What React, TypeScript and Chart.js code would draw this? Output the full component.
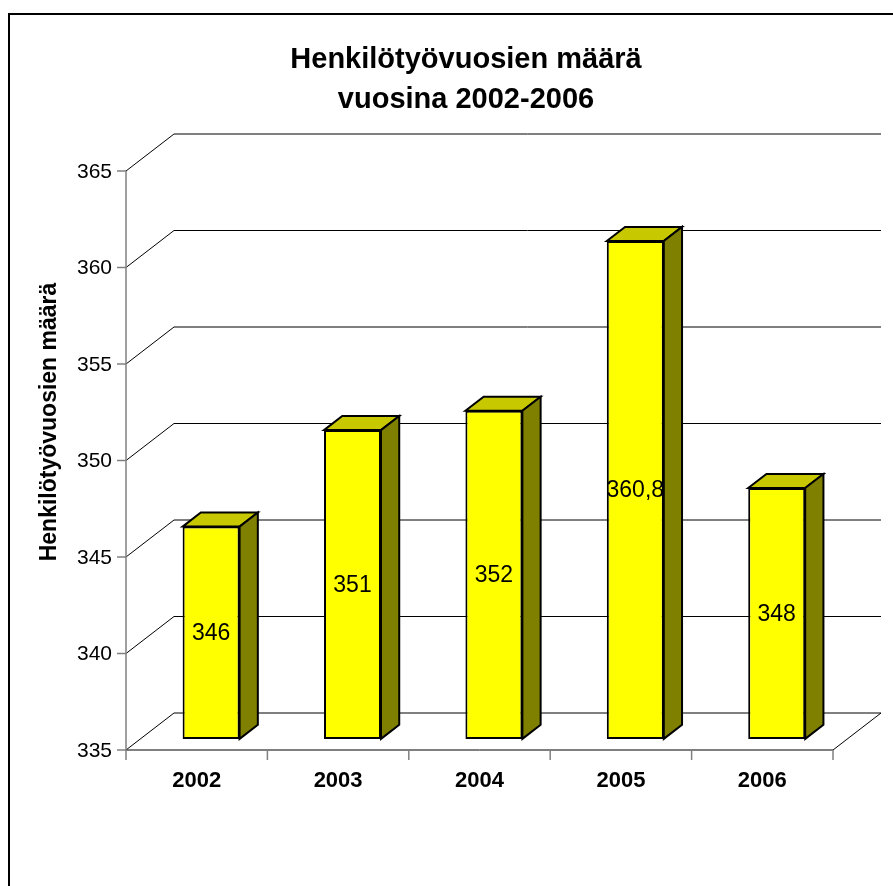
import React, { useEffect, useRef } from 'react';
import { Chart, registerables } from 'chart.js';

Chart.register(...registerables);

// ---- data ----
const categories = ['2002', '2003', '2004', '2005', '2006'];
const values = [346, 351, 352, 360.8, 348];
const valueLabels = ['346', '351', '352', '360,8', '348'];
const yTicks = [335, 340, 345, 350, 355, 360, 365];
const titleLines = ['Henkilötyövuosien määrä', 'vuosina 2002-2006'];
const yAxisTitle = 'Henkilötyövuosien määrä';

// ---- style ----
const W = 893;
const H = 886;
const FONT = '"Liberation Sans", Arial, Helvetica, sans-serif';
const DEPTH_X = 48;
const DEPTH_Y = -37;
const BAR_FRONT = 0.3;
const BAR_DEPTH = 0.38;
const FRONT_COLOR = '#FFFF00';
const TOP_COLOR = '#C8C800';
const SIDE_COLOR = '#808000';

export default function App() {
  const ref = useRef<HTMLCanvasElement>(null);

  useEffect(() => {
    const canvas = ref.current;
    if (!canvas) return;

    const line = (ctx: CanvasRenderingContext2D, pts: number[][], color: string, lw: number) => {
      ctx.beginPath();
      ctx.moveTo(pts[0][0], pts[0][1]);
      for (let i = 1; i < pts.length; i++) ctx.lineTo(pts[i][0], pts[i][1]);
      ctx.strokeStyle = color;
      ctx.lineWidth = lw;
      ctx.stroke();
    };

    const poly = (ctx: CanvasRenderingContext2D, pts: number[][], fill: string) => {
      ctx.beginPath();
      ctx.moveTo(pts[0][0], pts[0][1]);
      for (let i = 1; i < pts.length; i++) ctx.lineTo(pts[i][0], pts[i][1]);
      ctx.closePath();
      ctx.fillStyle = fill;
      ctx.fill();
      ctx.strokeStyle = '#000';
      ctx.lineWidth = 2;
      ctx.lineJoin = 'miter';
      ctx.stroke();
    };

    const plugin = {
      id: 'excel3d',
      beforeDatasetsDraw(chart: any) {
        const ctx: CanvasRenderingContext2D = chart.ctx;
        const xs = chart.scales.x;
        const ys = chart.scales.y;
        const left = xs.left;
        const right = xs.right;
        const catW = (right - left) / categories.length;

        ctx.save();
        // outer border
        line(ctx, [[9, H + 5], [9, 14], [W + 5, 14]], '#000', 2);

        // title
        ctx.fillStyle = '#000';
        ctx.textAlign = 'center';
        ctx.textBaseline = 'alphabetic';
        ctx.font = `bold 29px ${FONT}`;
        ctx.fillText(titleLines[0], 466, 68);
        ctx.fillText(titleLines[1], 466, 108);

        // y axis title
        ctx.save();
        ctx.translate(56, 422);
        ctx.rotate(-Math.PI / 2);
        ctx.font = `bold 23px ${FONT}`;
        ctx.textAlign = 'center';
        ctx.textBaseline = 'alphabetic';
        ctx.fillText(yAxisTitle, 0, 0);
        ctx.restore();

        // back wall gridlines + left wall diagonals
        yTicks.forEach((v) => {
          const y = ys.getPixelForValue(v);
          line(ctx, [[left, y], [left + DEPTH_X, y + DEPTH_Y], [right + DEPTH_X, y + DEPTH_Y]], '#000', 1);
        });
        // floor
        const yb = ys.getPixelForValue(yTicks[0]);
        line(ctx, [[left, yb], [right, yb], [right + DEPTH_X, yb + DEPTH_Y]], '#000', 1);

        // front value axis
        const yt = ys.getPixelForValue(yTicks[yTicks.length - 1]);
        line(ctx, [[left, yt], [left, yb + 10]], '#808080', 1.5);
        ctx.font = `21px ${FONT}`;
        ctx.textAlign = 'right';
        ctx.textBaseline = 'middle';
        ctx.fillStyle = '#000';
        yTicks.forEach((v) => {
          const y = ys.getPixelForValue(v);
          line(ctx, [[left - 9, y], [left, y]], '#808080', 1.5);
          ctx.fillText(String(v), left - 14, y + 1);
        });

        // category ticks + labels
        for (let k = 1; k <= categories.length; k++) {
          const x = left + k * catW;
          line(ctx, [[x, yb], [x, yb + 10]], '#808080', 1.5);
        }
        ctx.font = `bold 22px ${FONT}`;
        ctx.textAlign = 'center';
        ctx.textBaseline = 'middle';
        categories.forEach((c, i) => {
          ctx.fillText(c, xs.getPixelForValue(i), yb + 31);
        });
        ctx.restore();

        // shift the front faces of the bars to their depth position
        ctx.save();
        ctx.translate(DEPTH_X * BAR_FRONT, DEPTH_Y * BAR_FRONT);
      },
      afterDatasetsDraw(chart: any) {
        const ctx: CanvasRenderingContext2D = chart.ctx;
        ctx.restore();
        ctx.save();
        const fx = DEPTH_X * BAR_FRONT;
        const fy = DEPTH_Y * BAR_FRONT;
        const dx = DEPTH_X * BAR_DEPTH;
        const dy = DEPTH_Y * BAR_DEPTH;
        const meta = chart.getDatasetMeta(0);
        meta.data.forEach((bar: any, i: number) => {
          const { x, y, base, width } = bar.getProps(['x', 'y', 'base', 'width'], true);
          const l = x - width / 2 + fx;
          const r = x + width / 2 + fx;
          const t = y + fy;
          const b = base + fy;
          poly(ctx, [[l, t], [l + dx, t + dy], [r + dx, t + dy], [r, t]], TOP_COLOR);
          poly(ctx, [[r, t], [r + dx, t + dy], [r + dx, b + dy], [r, b]], SIDE_COLOR);
          ctx.fillStyle = '#000';
          ctx.font = `23px ${FONT}`;
          ctx.textAlign = 'center';
          ctx.textBaseline = 'middle';
          ctx.fillText(valueLabels[i], (l + r) / 2, (t + b) / 2 + 1);
        });
        ctx.restore();
      },
    };

    const chart = new Chart(canvas, {
      type: 'bar',
      data: {
        labels: categories,
        datasets: [
          {
            data: values,
            base: yTicks[0],
            backgroundColor: FRONT_COLOR,
            borderColor: '#000',
            borderWidth: 2,
            borderSkipped: false,
            barPercentage: 0.403,
            categoryPercentage: 1,
            clip: false,
          } as any,
        ],
      },
      options: {
        animation: false,
        responsive: true,
        maintainAspectRatio: false,
        layout: { padding: { left: 126, right: 60, top: 171, bottom: 136 } },
        plugins: {
          legend: { display: false },
          title: { display: false },
          tooltip: { enabled: false },
        },
        scales: {
          x: { type: 'category', display: false, offset: true },
          y: { type: 'linear', display: false, min: 335, max: 365, ticks: { stepSize: 5 } },
        },
      },
      plugins: [plugin],
    });

    return () => chart.destroy();
  }, []);

  return (
    <div style={{ position: 'absolute', left: 0, top: 0, width: W, height: H, overflow: 'hidden' }}>
      <canvas ref={ref} />
    </div>
  );
}
